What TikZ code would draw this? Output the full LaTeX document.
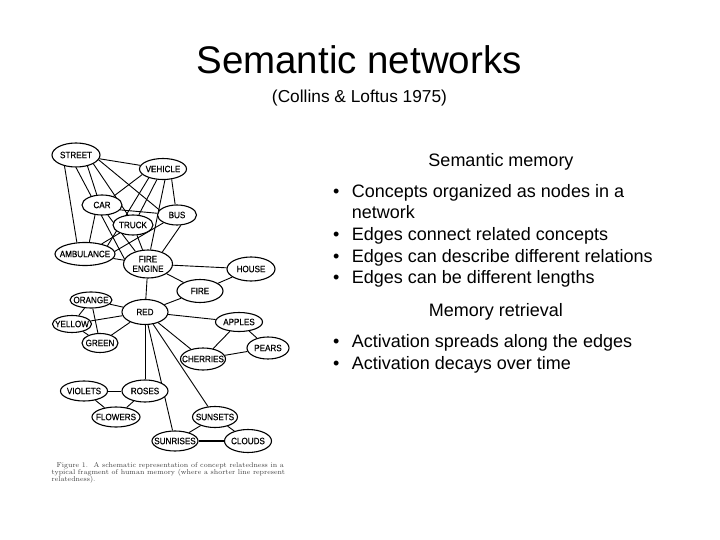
\documentclass[tikz,border=0pt]{standalone}
\usepackage{fontspec}
\setmainfont{Liberation Sans}
\newfontfamily\capfont{Latin Modern Roman}
\newfontfamily\figfont[FakeStretch=0.88,FakeBold=0.5]{Liberation Sans}
\usetikzlibrary{shapes.geometric}
\pgfdeclarelayer{bg}
\pgfsetlayers{bg,main}
\tikzset{
  cn/.style={ellipse, draw, fill=white, line width=1.1pt, inner sep=0pt},
  lbl/.style={font=\figfont\fontsize{9.2}{9.6}\selectfont, align=center, inner sep=0pt},
  ed/.style={line width=0.9pt},
  bodytxt/.style={anchor=base west, inner sep=0pt, font=\fontsize{18}{20}\selectfont},
  bul/.style={anchor=base west, inner sep=0pt, font=\fontsize{18}{20}\selectfont},
  head/.style={anchor=base, inner sep=0pt, font=\fontsize{18}{20}\selectfont},
  captxt/.style={anchor=base west, inner sep=0pt, text=black!75, font=\capfont\fontsize{7}{7.3}\selectfont}
}
\newcommand{\cnode}[6]{\node[cn, minimum width=#3pt, minimum height=#4pt, label={[lbl]center:#5}] (#1) at (#2) {};}
\begin{document}
\begin{tikzpicture}[x=1pt,y=-1pt]
\useasboundingbox (0,0) rectangle (720,540);
% title
\node[anchor=base, inner sep=0pt, font=\fontsize{38.5}{40}\selectfont] (title) at (359,74) {Semantic networks};
\node[anchor=base, inner sep=0pt, font=\fontsize{17.3}{19}\selectfont] (sub) at (359.5,103) {(Collins \& Loftus 1975)};

% network nodes
\cnode{street}{76,155}{48}{24}{STREET}{}
\cnode{vehicle}{163,169}{47}{21}{VEHICLE}{}
\cnode{car}{102,205}{40}{20}{CAR}{}
\cnode{bus}{177,215}{39}{20}{BUS}{}
\cnode{truck}{133,225}{40}{20}{TRUCK}{}
\cnode{amb}{85,254}{60}{23}{AMBULANCE}{}
\cnode{fe}{148,264}{49}{28}{FIRE\\ENGINE}{}
\cnode{house}{251,269}{48}{24}{HOUSE}{}
\cnode{fire}{200,291}{46}{23}{FIRE}{}
\cnode{orange}{91,300}{42}{16}{ORANGE}{}
\cnode{red}{145,312}{46}{25}{RED}{}
\cnode{yellow}{72,324}{39}{17}{YELLOW}{}
\cnode{green}{100,343}{36}{19}{GREEN}{}
\cnode{apples}{239,322}{47}{19}{APPLES}{}
\cnode{pears}{268,348}{42}{22}{PEARS}{}
\cnode{cherries}{203,359}{45}{22}{CHERRIES}{}
\cnode{violets}{84,391}{47}{20}{VIOLETS}{}
\cnode{roses}{145,391}{46}{22}{ROSES}{}
\cnode{flowers}{116,417}{48}{20}{FLOWERS}{}
\cnode{sunsets}{215,417}{45}{21}{SUNSETS}{}
\cnode{sunrises}{175,441}{46}{20}{SUNRISES}{}
\cnode{clouds}{248,441}{47}{23}{CLOUDS}{}

\begin{pgfonlayer}{bg}
\draw[ed] (street) -- (vehicle);
\draw[ed] (street.224) -- (amb.125);
\draw[ed] (street.270) -- (fe.168);
\draw[ed] (street.316) -- (car.117);
\draw[ed] (street.333) -- (truck.117);
\draw[ed] (street.348) -- (bus.164);
\draw[ed] (vehicle.195) -- (car.37);
\draw[ed] (vehicle.212) -- (amb.20);
\draw[ed] (vehicle.240) -- (truck.60);
\draw[ed] (vehicle.280) -- (fe.80);
\draw[ed] (vehicle.310) -- (bus.100);
\draw[ed] (car.345) -- (bus.175);
\draw[ed] (car.235) -- (amb.70);
\draw[ed] (car.300) -- (fe.135);
\draw[ed] (truck) -- (amb);
\draw[ed] (truck) -- (fe);
\draw[ed] (bus.210) -- (amb.5);
\draw[ed] (bus.290) -- (fe.40);
\draw[ed] (amb) -- (fe);
\draw[ed] (fe) -- (house);
\draw[ed] (fe) -- (fire);
\draw[ed] (fe) -- (red);
\draw[ed] (house) -- (fire);
\draw[ed] (fire) -- (red);
\draw[ed] (red) -- (orange);
\draw[ed] (red) -- (yellow);
\draw[ed] (red) -- (green);
\draw[ed] (orange) -- (yellow);
\draw[ed] (orange) -- (green);
\draw[ed] (yellow) -- (green);
\draw[ed] (red) -- (apples);
\draw[ed] (red) -- (cherries);
\draw[ed] (apples) -- (pears);
\draw[ed] (apples) -- (cherries);
\draw[ed] (cherries) -- (pears);
\draw[ed] (red) -- (roses);
\draw[ed] (roses) -- (violets);
\draw[ed] (roses) -- (flowers);
\draw[ed] (violets) -- (flowers);
\draw[ed] (red) -- (sunsets);
\draw[ed] (red) -- (sunrises);
\draw[ed] (sunsets) -- (sunrises);
\draw[ed] (sunsets) -- (clouds);
\draw[line width=2pt] (sunrises) -- (clouds);
\end{pgfonlayer}

% caption (clipped like the source)
\begin{scope}
\clip (40,455) rectangle (284,492);
\node[captxt] (cap1) at (56.5,467) {\textsc{Figure} 1.\ \ A schematic representation of concept relatedness in a stereo-};
\node[captxt] (cap2) at (51.5,474.3) {typical fragment of human memory (where a shorter line represents greater};
\node[captxt] (cap3) at (51.5,481.6) {relatedness).};
\end{scope}

% right text
\node[head] (h1) at (501,166.7) {Semantic memory};
\node[bul] (b1) at (333,197.3) {•};
\node[bodytxt] (t1) at (351.7,197.3) {Concepts organized as nodes in a};
\node[bodytxt] (t1b) at (351.7,218.7) {network};
\node[bul] (b2) at (333,240.4) {•};
\node[bodytxt] (t2) at (351.7,240.4) {Edges connect related concepts};
\node[bul] (b3) at (333,262) {•};
\node[bodytxt] (t3) at (351.7,262) {Edges can describe different relations};
\node[bul] (b4) at (333,283.5) {•};
\node[bodytxt] (t4) at (351.7,283.5) {Edges can be different lengths};
\node[head] (h2) at (496,316.7) {Memory retrieval};
\node[bul] (b5) at (333,347.3) {•};
\node[bodytxt] (t5) at (351.7,347.3) {Activation spreads along the edges};
\node[bul] (b6) at (333,369) {•};
\node[bodytxt] (t6) at (351.7,369) {Activation decays over time};
\end{tikzpicture}
\end{document}
